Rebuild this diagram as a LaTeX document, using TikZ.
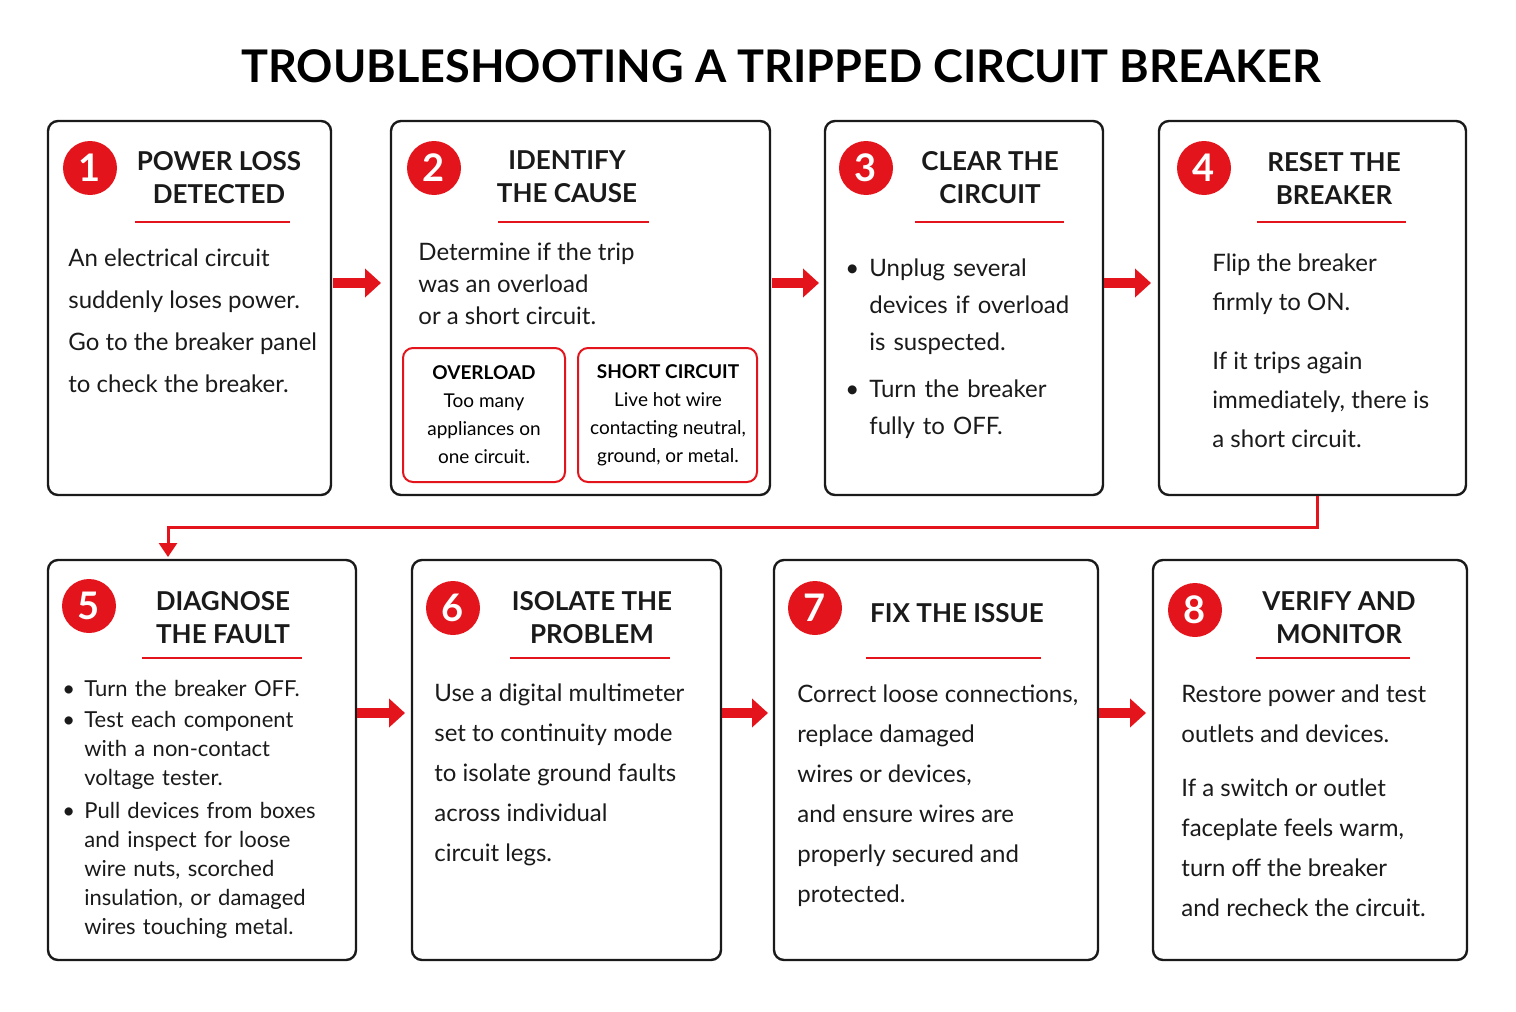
\documentclass[tikz,border=0pt]{standalone}
\usepackage{fontspec}
\setmainfont{Lato}
\usetikzlibrary{arrows.meta}
\definecolor{rd}{HTML}{E3141B}
\definecolor{ink}{HTML}{1A1A1A}
\newcommand{\bul}[1]{\par\noindent\makebox[1em][l]{\textbullet}\begin{tabular}[t]{@{}l@{}}#1\end{tabular}\par}
\begin{document}
\begin{tikzpicture}[x=0.5pt,y=-0.5pt,
  box/.style={draw=ink,line width=1.2pt,rounded corners=5pt},
  num/.style={circle,fill=rd,minimum size=27pt,inner sep=0pt,text=white,font=\fontsize{19}{19}\selectfont\bfseries},
  head/.style={align=center,font=\fontsize{13}{16.5}\selectfont\bfseries,text=ink},
  uline/.style={draw=rd,line width=1.2pt},
  body/.style={anchor=north west,inner sep=0pt,text=ink},
  barrow/.style={-{Triangle[length=8pt,width=14pt]},draw=rd,line width=5pt},
  sub/.style={draw=rd,line width=1pt,rounded corners=5pt}]
\useasboundingbox (0,0) rectangle (1516,1012);
\node[font=\fontsize{22.5}{22.5}\selectfont\bfseries,text=black] (title) at (781,66) {TROUBLESHOOTING A TRIPPED CIRCUIT BREAKER};
% boxes
\draw[box] (48,121) rectangle (331,495);
\draw[box] (391,121) rectangle (770,495);
\draw[box] (825,121) rectangle (1103,495);
\draw[box] (1159,121) rectangle (1466,495);
\draw[box] (48,560) rectangle (356,960);
\draw[box] (412,560) rectangle (721,960);
\draw[box] (774,560) rectangle (1098,960);
\draw[box] (1153,560) rectangle (1467,960);
% numbers
\node[num] (n1) at (90,168) {1};
\node[num] (n2) at (434,168) {2};
\node[num] (n3) at (866,168) {3};
\node[num] (n4) at (1204,168) {4};
\node[num] (n5) at (89,606) {5};
\node[num] (n6) at (453,608) {6};
\node[num] (n7) at (815,608) {7};
\node[num] (n8) at (1195,610) {8};
% headings
\node[head] (h1) at (219,178) {POWER LOSS\\DETECTED};
\node[head] (h2) at (567,177) {IDENTIFY\\THE CAUSE};
\node[head] (h3) at (990,178) {CLEAR THE\\CIRCUIT};
\node[head] (h4) at (1334,178) {RESET THE\\BREAKER};
\node[head] (h5) at (223,618) {DIAGNOSE\\THE FAULT};
\node[head] (h6) at (592,618) {ISOLATE THE\\PROBLEM};
\node[head] (h7) at (957,613) {FIX THE ISSUE};
\node[head] (h8) at (1339,618) {VERIFY AND\\MONITOR};
\draw[uline] (135,222) -- (290,222);
\draw[uline] (498,222) -- (649,222);
\draw[uline] (915,222) -- (1064,222);
\draw[uline] (1257,222) -- (1406,222);
\draw[uline] (142,658) -- (302,658);
\draw[uline] (510,658) -- (670,658);
\draw[uline] (866,658) -- (1041,658);
\draw[uline] (1256,658) -- (1410,658);
% bodies
\node[body,font=\fontsize{12}{21}\selectfont,align=left] (t1) at (68,248) {An electrical circuit\\suddenly loses power.\\Go to the breaker panel\\to check the breaker.};
\node[body,font=\fontsize{12}{16}\selectfont,align=left] (t2) at (418,242) {Determine if the trip\\was an overload\\or a short circuit.};
\draw[sub] (403,348) rectangle (565,482);
\draw[sub] (578,348) rectangle (757,482);
\node[align=center,font=\fontsize{9.5}{14}\selectfont] (s1) at (484,415) {\textbf{OVERLOAD}\\Too many\\appliances on\\one circuit.};
\node[align=center,font=\fontsize{9.5}{14}\selectfont] (s2) at (668,415) {\textbf{SHORT CIRCUIT}\\Live hot wire\\contacting neutral,\\ground, or metal.};
\node[body,font=\fontsize{12}{18.5}\selectfont,text width=130pt] (t3) at (845,239) {\bul{Unplug several\\devices if overload\\is suspected.}\vspace{4pt}\bul{Turn the breaker\\fully to OFF.}};
\node[body,font=\fontsize{12}{19.5}\selectfont,align=left] (t4) at (1212,253) {Flip the breaker\\firmly to ON.\\[10pt]If it trips again\\immediately, there is\\a short circuit.};
\node[body,font=\fontsize{11}{14.5}\selectfont,text width=140pt] (t5) at (62,667) {\bul{Turn the breaker OFF.}\vspace{1pt}\bul{Test each component\\with a non-contact\\voltage tester.}\vspace{1pt}\bul{Pull devices from boxes\\and inspect for loose\\wire nuts, scorched\\insulation, or damaged\\wires touching metal.}};
\node[body,font=\fontsize{12}{20}\selectfont,align=left] (t6) at (434,683) {Use a digital multimeter\\set to continuity mode\\to isolate ground faults\\across individual\\circuit legs.};
\node[body,font=\fontsize{12}{20}\selectfont,align=left] (t7) at (797,684) {Correct loose connections,\\replace damaged\\wires or devices,\\and ensure wires are\\properly secured and\\protected.};
\node[body,font=\fontsize{12}{20}\selectfont,align=left] (t8) at (1181,684) {Restore power and test\\outlets and devices.\\[7pt]If a switch or outlet\\faceplate feels warm,\\turn off the breaker\\and recheck the circuit.};
% arrows
\coordinate (a1) at (333,283); \coordinate (a1e) at (381,283);
\coordinate (a2) at (772,283); \coordinate (a2e) at (819,283);
\coordinate (a3) at (1104,283); \coordinate (a3e) at (1151,283);
\coordinate (a5) at (357,713); \coordinate (a5e) at (405,713);
\coordinate (a6) at (722,713); \coordinate (a6e) at (768,713);
\coordinate (a7) at (1099,713); \coordinate (a7e) at (1146,713);
\draw[barrow] (a1) -- (a1e);
\draw[barrow] (a2) -- (a2e);
\draw[barrow] (a3) -- (a3e);
\draw[barrow] (a5) -- (a5e);
\draw[barrow] (a6) -- (a6e);
\draw[barrow] (a7) -- (a7e);
\coordinate (c1) at (1317,496); \coordinate (c2) at (168,557);
\draw[rd,line width=1.5pt,-{Triangle[length=7pt,width=9pt]}] (c1) -- (1317,527) -- (168,527) -- (c2);
\end{tikzpicture}
\end{document}
